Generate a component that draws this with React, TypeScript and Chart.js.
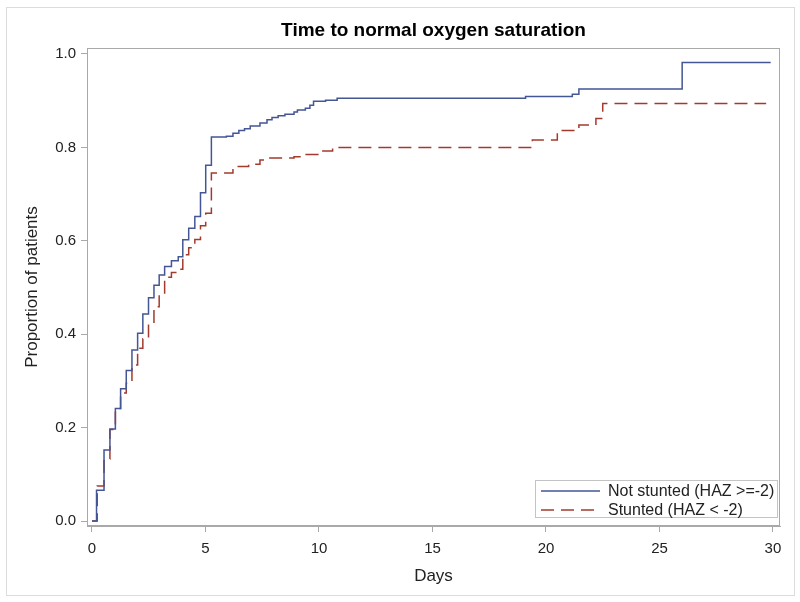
import React, { useEffect, useRef } from "react";
import { Chart, registerables } from "chart.js";

Chart.register(...registerables);

const chartTitle = "Time to normal oxygen saturation";
const xAxisTitle = "Days";
const yAxisTitle = "Proportion of patients";
const xTickValues = [0, 5, 10, 15, 20, 25, 30];
const yTickValues = [0, 0.2, 0.4, 0.6, 0.8, 1.0];
const seriesNames = ["Not stunted (HAZ >=-2)", "Stunted (HAZ < -2)"];

const notStuntedDays = [
  0, 0.2, 0.53, 0.79, 1.03, 1.26, 1.51, 1.76, 2.01, 2.24, 2.49, 2.73, 2.96, 3.2,
  3.5, 3.8, 4.0, 4.26, 4.53, 4.78, 5.01, 5.26, 5.92, 6.21, 6.47, 6.72, 6.97, 7.4,
  7.71, 7.93, 8.2, 8.5, 8.9, 9.05, 9.4, 9.6, 9.76, 10.29, 10.8, 19.1, 21.16, 21.45,
  26.0, 29.9,
];
const notStuntedProp = [
  0, 0.066, 0.152, 0.197, 0.241, 0.283, 0.322, 0.366, 0.402, 0.443, 0.478, 0.505,
  0.527, 0.545, 0.557, 0.566, 0.602, 0.627, 0.652, 0.703, 0.762, 0.822, 0.824,
  0.83, 0.836, 0.84, 0.846, 0.852, 0.859, 0.864, 0.868, 0.871, 0.876, 0.88, 0.884,
  0.89, 0.899, 0.901, 0.905, 0.909, 0.914, 0.925, 0.982, 0.982,
];

const stuntedDays = [
  0, 0.23, 0.53, 0.79, 1.03, 1.26, 1.51, 1.76, 2.01, 2.24, 2.49, 2.73, 2.96, 3.2,
  3.5, 3.8, 4.0, 4.26, 4.53, 4.78, 5.01, 5.26, 6.21, 6.9, 7.4, 7.8, 8.9, 9.3, 9.95,
  10.6, 19.4, 20.5, 21.45, 22.2, 22.5, 29.7,
];
const stuntedProp = [
  0, 0.075, 0.133, 0.196, 0.241, 0.274, 0.295, 0.334, 0.37, 0.39, 0.423, 0.459,
  0.484, 0.522, 0.532, 0.539, 0.57, 0.585, 0.603, 0.632, 0.659, 0.745, 0.759,
  0.764, 0.773, 0.777, 0.78, 0.785, 0.792, 0.8, 0.816, 0.836, 0.848, 0.862, 0.894,
  0.894,
];

const blue = "#445694";
const red = "#A23A2E";
const axisGray = "#a9a9a9";
const textColor = "#222";
const fontFamily = "'Liberation Sans', Arial, sans-serif";
const redDash = [13, 7];

const framePlugin = {
  id: "frame",
  beforeDraw(chart: any) {
    const { ctx, width, height } = chart;
    ctx.save();
    ctx.fillStyle = "#fff";
    ctx.fillRect(0, 0, width, height);
    ctx.strokeStyle = "#dcdcdc";
    ctx.lineWidth = 1;
    ctx.strokeRect(6.5, 7.5, 788, 588);
    ctx.restore();
  },
  afterDraw(chart: any) {
    const { ctx, chartArea } = chart;
    ctx.save();
    ctx.strokeStyle = axisGray;
    ctx.lineWidth = 1;
    const l = Math.round(chartArea.left) + 0.5;
    const t = Math.round(chartArea.top) + 0.5;
    const r = Math.round(chartArea.right) - 0.5;
    const b = Math.round(chartArea.bottom) - 0.5;
    ctx.strokeRect(l, t, r - l, b - t);

    // legend box inside plot, bottom right
    const boxR = chartArea.right - 3;
    const boxB = chartArea.bottom - 9;
    const boxW = 242;
    const boxH = 37;
    const boxL = boxR - boxW;
    const boxT = boxB - boxH;
    ctx.strokeStyle = "#c4c4c4";
    ctx.strokeRect(Math.round(boxL) + 0.5, Math.round(boxT) + 0.5, boxW, boxH);
    const colors = [blue, red];
    const dashes = [[], redDash];
    ctx.font = `16px ${fontFamily}`;
    ctx.textBaseline = "middle";
    ctx.textAlign = "left";
    seriesNames.forEach((name, i) => {
      const y = boxT + 11 + i * 19;
      ctx.beginPath();
      ctx.setLineDash(dashes[i]);
      ctx.strokeStyle = colors[i];
      ctx.lineWidth = 1.5;
      ctx.moveTo(boxL + 6, y);
      ctx.lineTo(boxL + 65, y);
      ctx.stroke();
      ctx.setLineDash([]);
      ctx.fillStyle = textColor;
      ctx.fillText(name, boxL + 73, y + 1);
    });
    ctx.restore();
  },
};

export default function App() {
  const canvasRef = useRef<HTMLCanvasElement | null>(null);

  useEffect(() => {
    const canvas = canvasRef.current;
    if (!canvas) return;
    const toPoints = (xs: number[], ys: number[]) =>
      xs.map((x, i) => ({ x, y: ys[i] }));

    const chart = new Chart(canvas, {
      type: "line",
      data: {
        datasets: [
          {
            label: seriesNames[0],
            data: toPoints(notStuntedDays, notStuntedProp),
            borderColor: blue,
            borderWidth: 1.5,
            pointRadius: 0,
            stepped: "before",
            fill: false,
          },
          {
            label: seriesNames[1],
            data: toPoints(stuntedDays, stuntedProp),
            borderColor: red,
            borderWidth: 1.5,
            borderDash: redDash,
            pointRadius: 0,
            stepped: "before",
            fill: false,
          },
        ],
      },
      plugins: [framePlugin],
      options: {
        animation: false,
        responsive: false,
        devicePixelRatio: 1,
        layout: { padding: { top: 9, right: 20, bottom: 0, left: 0 } },
        plugins: {
          legend: { display: false },
          tooltip: { enabled: false },
          title: {
            display: true,
            text: chartTitle,
            fullSize: false,
            color: "#000",
            font: { family: fontFamily, size: 19, weight: "bold" },
            padding: { top: 10, bottom: 6.2 },
          },
        },
        scales: {
          x: {
            type: "linear",
            min: -0.22,
            max: 30.31,
            afterBuildTicks: (scale: any) => {
              scale.ticks = xTickValues.map((v) => ({ value: v }));
            },
            afterFit: (scale: any) => {
              scale.height = 76;
            },
            ticks: {
              color: textColor,
              font: { family: fontFamily, size: 15 },
              padding: 8,
              maxRotation: 0,
              callback: (v: any) => String(v),
            },
            grid: {
              drawOnChartArea: false,
              drawTicks: true,
              tickLength: 6,
              color: axisGray,
            },
            border: { display: true, color: axisGray },
            title: {
              display: true,
              text: xAxisTitle,
              color: textColor,
              font: { family: fontFamily, size: 17 },
              padding: { top: 4, bottom: 15 },
            },
          },
          y: {
            type: "linear",
            min: -0.0107,
            max: 1.0128,
            afterBuildTicks: (scale: any) => {
              scale.ticks = yTickValues.map((v) => ({ value: v }));
            },
            afterFit: (scale: any) => {
              scale.width = 87;
            },
            ticks: {
              color: textColor,
              font: { family: fontFamily, size: 15 },
              padding: 5,
              callback: (v: any) => Number(v).toFixed(1),
            },
            grid: {
              drawOnChartArea: false,
              drawTicks: true,
              tickLength: 6,
              color: axisGray,
            },
            border: { display: true, color: axisGray },
            title: {
              display: true,
              text: yAxisTitle,
              color: textColor,
              font: { family: fontFamily, size: 17 },
              padding: { top: 22, bottom: 0 },
            },
          },
        },
      } as any,
    });
    return () => chart.destroy();
  }, []);

  return (
    <div
      style={{
        position: "absolute",
        left: 0,
        top: 0,
        width: 800,
        height: 602,
        background: "#fff",
      }}
    >
      <canvas ref={canvasRef} width={800} height={602} style={{ width: 800, height: 602 }} />
    </div>
  );
}
